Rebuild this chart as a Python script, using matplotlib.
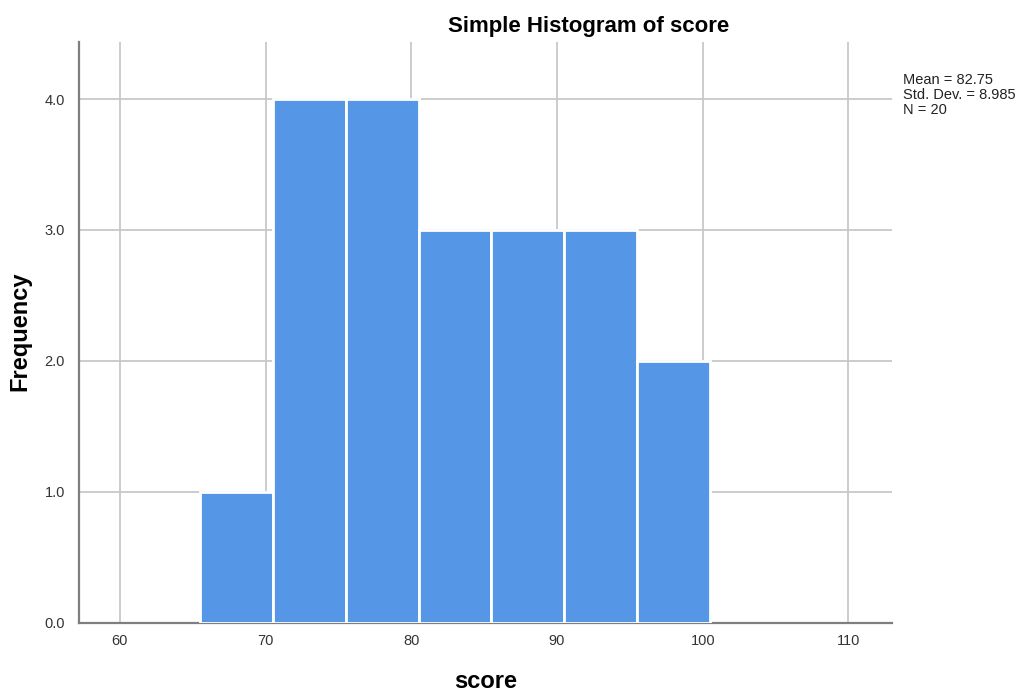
"""
SPSS-style simple histogram of score
"""
import matplotlib
matplotlib.use('Agg')
import matplotlib.pyplot as plt

# Histogram data
bin_edges = [65.5, 70.5, 75.5, 80.5, 85.5, 90.5, 95.5, 100.5]
counts = [1, 4, 4, 3, 3, 3, 2]
x_ticks = [60, 70, 80, 90, 100, 110]
y_ticks = [0.0, 1.0, 2.0, 3.0, 4.0]
stats_lines = ["Mean = 82.75", "Std. Dev. = 8.985", "N = 20"]

plt.rcParams['font.family'] = ['Liberation Sans', 'DejaVu Sans']

fig = plt.figure(figsize=(10.24, 6.93), dpi=100)
ax = fig.add_axes([0.0771, 0.1016, 0.7937, 0.8382])

widths = [b - a for a, b in zip(bin_edges[:-1], bin_edges[1:])]
ax.bar(bin_edges[:-1], counts, width=widths, align='edge',
       color='#5596e6', edgecolor='white', linewidth=2.0, zorder=3)

ax.set_xlim(57.19, 112.97)
ax.set_ylim(0, 4.438)
ax.set_xticks(x_ticks)
ax.set_yticks(y_ticks)
ax.set_yticklabels([f"{v:.1f}" for v in y_ticks])
ax.tick_params(length=0, labelsize=10.5, colors='#333333')
ax.tick_params(axis='x', pad=8)
ax.tick_params(axis='y', pad=10)

ax.grid(True, color='#c8c8c8', linewidth=1.3, zorder=0)
ax.set_axisbelow(True)

for side in ['top', 'right']:
    ax.spines[side].set_visible(False)
for side in ['left', 'bottom']:
    ax.spines[side].set_color('#7f7f7f')
    ax.spines[side].set_linewidth(1.6)

fig.text(0.575, 0.962, "Simple Histogram of score", ha='center', va='center',
         fontsize=16, fontweight='bold', color='black')
fig.text(0.0195, 0.522, "Frequency", rotation=90, ha='center', va='center',
         fontsize=17, fontweight='bold', color='black')
fig.text(0.474, 0.016, "score", ha='center', va='center',
         fontsize=17, fontweight='bold', color='black')

fig.text(0.882, 0.895, "\n".join(stats_lines), ha='left', va='top',
         fontsize=10.5, color='#222222', linespacing=1.1)

plt.savefig('out.png', dpi=100, facecolor='white')
plt.close()
